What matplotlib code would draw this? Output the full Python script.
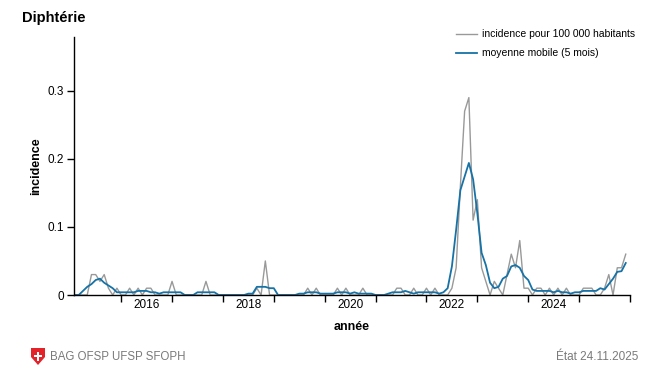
import numpy as np
import matplotlib
matplotlib.use("Agg")
import matplotlib.pyplot as plt
from matplotlib.patches import Polygon, Rectangle

plt.rcParams['font.family'] = ['Liberation Sans', 'DejaVu Sans']

# monthly values, Feb 2015 .. Dec 2025 (incidence per 100 000)
start_year = 2015
start_month = 2
incidence = [0, 0, 0, 0, 0.03, 0.03, 0.02, 0.03, 0.01, 0, 0.01,
             0, 0, 0.01, 0, 0.01, 0, 0.01, 0.01, 0, 0, 0, 0,
             0.02, 0, 0, 0, 0, 0, 0, 0, 0.02, 0, 0, 0,
             0, 0, 0, 0, 0, 0, 0, 0, 0.01, 0, 0.05, 0,
             0, 0, 0, 0, 0, 0, 0, 0, 0.01, 0, 0.01, 0,
             0, 0, 0, 0.01, 0, 0.01, 0, 0, 0, 0.01, 0, 0,
             0, 0, 0, 0, 0, 0.01, 0.01, 0, 0, 0.01, 0, 0,
             0.01, 0, 0.01, 0, 0, 0, 0.01, 0.04, 0.16, 0.27, 0.29, 0.11,
             0.14, 0.04, 0.02, 0, 0.02, 0.01, 0, 0.03, 0.06, 0.04, 0.08, 0.01,
             0.01, 0, 0.01, 0.01, 0, 0.01, 0, 0.01, 0, 0.01, 0, 0,
             0, 0.01, 0.01, 0.01, 0, 0, 0.01, 0.03, 0, 0.04, 0.04, 0.06]
moving_avg = [0, 0, 0.006, 0.012, 0.016, 0.022, 0.024, 0.018, 0.014, 0.010, 0.004,
              0.004, 0.004, 0.004, 0.004, 0.006, 0.006, 0.006, 0.004, 0.004, 0.002, 0.004, 0.004,
              0.004, 0.004, 0.004, 0, 0, 0, 0.004, 0.004, 0.004, 0.004, 0.004, 0,
              0, 0, 0, 0, 0, 0, 0.002, 0.002, 0.012, 0.012, 0.012, 0.010,
              0.010, 0, 0, 0, 0, 0, 0.002, 0.002, 0.004, 0.004, 0.004, 0.002,
              0.002, 0.002, 0.002, 0.004, 0.004, 0.004, 0.002, 0.004, 0.002, 0.002, 0.002, 0.002,
              0, 0, 0, 0.002, 0.004, 0.004, 0.004, 0.006, 0.004, 0.002, 0.004,
              0.004, 0.004, 0.004, 0.004, 0.002, 0.004, 0.010, 0.042, 0.096, 0.154, 0.174, 0.194,
              0.170, 0.120, 0.062, 0.044, 0.018, 0.010, 0.012, 0.024, 0.028, 0.042, 0.044, 0.040,
              0.028, 0.022, 0.008, 0.006, 0.006, 0.006, 0.006, 0.004, 0.006, 0.004, 0.004, 0.002,
              0.004, 0.004, 0.006, 0.006, 0.006, 0.006, 0.010, 0.008, 0.016, 0.024, 0.034, 0.035, 0.047]

year_ticks = list(range(2016, 2027))
year_labels = [2016, 2018, 2020, 2022, 2024]

months = np.arange(len(incidence))
x = start_year + (start_month - 1 + months) / 12.0

fig = plt.figure(figsize=(6.5, 3.68), dpi=100)
W, H = 650, 368
ax = fig.add_axes([74 / W, (H - 295) / H, (630 - 74) / W, (295 - 37) / H])

ax.plot(x, incidence, color='#999999', lw=1.0, label='incidence pour 100 000 habitants')
ax.plot(x, moving_avg, color='#1772a6', lw=1.3, label='moyenne mobile (5 mois)')

ax.set_xlim(x[0] - 0.01, 2026.0)
ax.set_ylim(0, 0.379)

for s in ['top', 'right']:
    ax.spines[s].set_visible(False)
for s in ['left', 'bottom']:
    ax.spines[s].set_linewidth(1.0)
    ax.spines[s].set_color('black')

ax.set_xticks(year_ticks)
ax.set_xticklabels([])
ax.set_xticks([y + 0.5 for y in year_labels], minor=True)
ax.set_xticklabels([str(y) for y in year_labels], minor=True)
ax.tick_params(axis='x', which='major', length=5, width=1, direction='out')
ax.tick_params(axis='x', which='minor', length=0, labelsize=8.5, pad=3)

ax.set_yticks([0, 0.1, 0.2, 0.3])
ax.set_yticklabels(['0', '0.1', '0.2', '0.3'])
ax.tick_params(axis='y', length=5, width=1, labelsize=8.5, pad=2)

ax.set_xlabel('année', fontsize=9, fontweight='bold', labelpad=7)
ax.set_ylabel('incidence', fontsize=9, fontweight='bold', labelpad=4)

leg = ax.legend(loc='upper right', bbox_to_anchor=(645 / W, 1 - 20 / H), bbox_transform=fig.transFigure,
                frameon=False, fontsize=7.5, handlelength=2.0, labelspacing=0.85, handletextpad=0.5)

fig.text(22 / W, 1 - 18 / H, 'Diphtérie', fontsize=10.5, fontweight='bold', va='center', ha='left')

# footer
fig.text(50 / W, 1 - 357 / H, 'BAG OFSP UFSP SFOPH', fontsize=8.3, color='#7a7a7a', va='center', ha='left')
fig.text(638 / W, 1 - 357 / H, 'État 24.11.2025', fontsize=8.5, color='#7a7a7a', va='center', ha='right')

# little swiss shield
sx, sy = 31, 348
shield = [(sx, sy), (sx + 14, sy), (sx + 14, sy + 9), (sx + 7, sy + 17), (sx, sy + 9)]
fig.patches.append(Polygon([(px / W, 1 - py / H) for px, py in shield], closed=True,
                           transform=fig.transFigure, facecolor='#e3222a', edgecolor='none'))
fig.patches.append(Rectangle(((sx + 5.6) / W, 1 - (sy + 12.5) / H), 2.8 / W, 9 / H,
                             transform=fig.transFigure, facecolor='white', edgecolor='none'))
fig.patches.append(Rectangle(((sx + 2.8) / W, 1 - (sy + 9.4) / H), 8.4 / W, 2.8 / H,
                             transform=fig.transFigure, facecolor='white', edgecolor='none'))

fig.savefig('out.png', dpi=100)
